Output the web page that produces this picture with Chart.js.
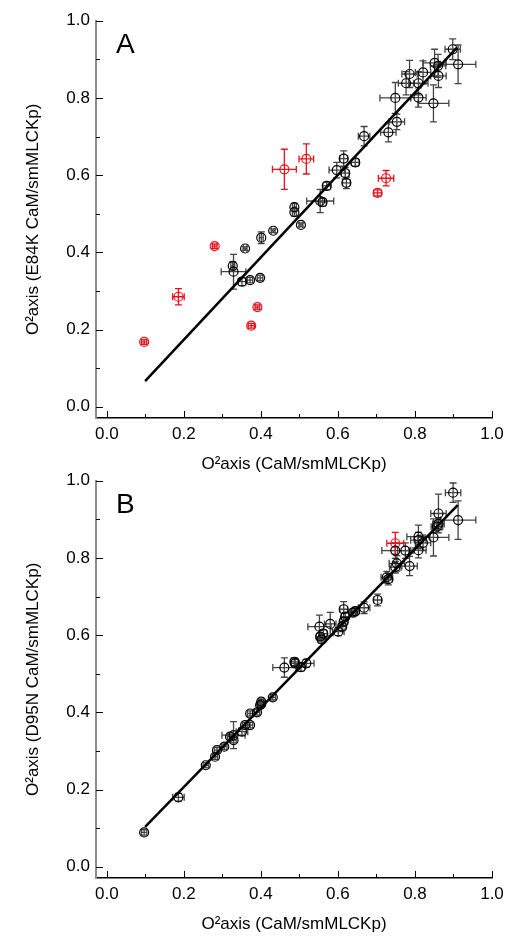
<!DOCTYPE html>
<html>
<head>
<meta charset="utf-8">
<script src="https://cdn.jsdelivr.net/npm/chart.js@4.4.1/dist/chart.umd.min.js"></script>
<style>
  body { margin: 0; background: #fff; }
  .panel { position: absolute; left: 0; }
</style>
</head>
<body>
<div class="panel" style="top:0"><canvas id="chartA" width="523" height="480"></canvas></div>
<div class="panel" style="top:460px"><canvas id="chartB" width="523" height="480"></canvas></div>
<script>
// tick values
const majorTicks = [0.0, 0.2, 0.4, 0.6, 0.8, 1.0];
const minorTicks = [0.1, 0.3, 0.5, 0.7, 0.9];

// panel A, E84K - black points
const aBlackX = [0.898, 0.912, 0.851, 0.860, 0.861, 0.848, 0.786, 0.821, 0.777, 0.809, 0.749, 0.809, 0.753, 0.731, 0.668, 0.615, 0.645, 0.597, 0.619, 0.622, 0.571, 0.554, 0.560, 0.487, 0.487, 0.504, 0.432, 0.401, 0.359, 0.327, 0.329, 0.351, 0.372, 0.398];
const aBlackY = [0.926, 0.887, 0.891, 0.883, 0.857, 0.786, 0.862, 0.866, 0.838, 0.838, 0.800, 0.801, 0.738, 0.711, 0.701, 0.643, 0.633, 0.613, 0.605, 0.580, 0.572, 0.533, 0.530, 0.517, 0.504, 0.471, 0.456, 0.438, 0.410, 0.365, 0.350, 0.324, 0.328, 0.334];
const aBlackXErr = [0.020, 0.046, 0.030, 0.020, 0.020, 0.040, 0.020, 0.020, 0.020, 0.025, 0.040, 0.020, 0.020, 0.020, 0.015, 0.010, 0.010, 0.020, 0.010, 0.010, 0.010, 0.035, 0.010, 0.005, 0.005, 0.005, 0.005, 0.005, 0.005, 0.005, 0.032, 0.010, 0.007, 0.007];
const aBlackYErr = [0.027, 0.050, 0.035, 0.030, 0.030, 0.048, 0.035, 0.030, 0.030, 0.030, 0.040, 0.025, 0.020, 0.025, 0.025, 0.020, 0.010, 0.020, 0.015, 0.015, 0.010, 0.030, 0.010, 0.010, 0.010, 0.005, 0.005, 0.015, 0.005, 0.010, 0.045, 0.010, 0.007, 0.007];

// panel A, E84K - red points
const aRedX = [0.461, 0.518, 0.725, 0.703, 0.280, 0.186, 0.097, 0.391, 0.375];
const aRedY = [0.615, 0.642, 0.592, 0.554, 0.416, 0.285, 0.168, 0.258, 0.210];
const aRedXErr = [0.031, 0.019, 0.020, 0.010, 0.006, 0.015, 0.007, 0.006, 0.008];
const aRedYErr = [0.052, 0.039, 0.020, 0.008, 0.006, 0.021, 0.006, 0.006, 0.006];

// panel A fit line
const aFitX = [0.0995, 0.909];
const aFitY = [0.0666, 0.930];

// panel B, D95N - black points
const bBlackX = [0.899, 0.912, 0.861, 0.857, 0.861, 0.848, 0.809, 0.809, 0.821, 0.809, 0.775, 0.749, 0.786, 0.753, 0.749, 0.727, 0.731, 0.703, 0.668, 0.645, 0.639, 0.615, 0.619, 0.615, 0.611, 0.601, 0.580, 0.552, 0.562, 0.558, 0.554, 0.461, 0.487, 0.489, 0.504, 0.518, 0.431, 0.401, 0.401, 0.398, 0.372, 0.390, 0.372, 0.359, 0.351, 0.329, 0.320, 0.329, 0.305, 0.286, 0.281, 0.257, 0.186, 0.097];
const bBlackY = [0.969, 0.898, 0.915, 0.881, 0.888, 0.853, 0.855, 0.846, 0.839, 0.820, 0.819, 0.819, 0.779, 0.786, 0.776, 0.750, 0.745, 0.691, 0.671, 0.662, 0.658, 0.667, 0.648, 0.635, 0.622, 0.609, 0.629, 0.622, 0.604, 0.589, 0.596, 0.516, 0.531, 0.527, 0.517, 0.527, 0.439, 0.428, 0.421, 0.419, 0.397, 0.400, 0.367, 0.367, 0.350, 0.341, 0.337, 0.328, 0.311, 0.302, 0.285, 0.263, 0.180, 0.089];
const bBlackXErr = [0.020, 0.046, 0.020, 0.015, 0.015, 0.040, 0.030, 0.020, 0.020, 0.020, 0.020, 0.035, 0.020, 0.020, 0.015, 0.015, 0.010, 0.010, 0.015, 0.010, 0.010, 0.010, 0.010, 0.010, 0.010, 0.015, 0.015, 0.030, 0.010, 0.010, 0.010, 0.030, 0.010, 0.010, 0.010, 0.020, 0.007, 0.007, 0.007, 0.007, 0.007, 0.007, 0.007, 0.007, 0.015, 0.030, 0.007, 0.007, 0.007, 0.007, 0.007, 0.007, 0.015, 0.007];
const bBlackYErr = [0.025, 0.050, 0.050, 0.015, 0.015, 0.048, 0.030, 0.020, 0.020, 0.020, 0.020, 0.020, 0.025, 0.020, 0.015, 0.015, 0.015, 0.015, 0.015, 0.010, 0.010, 0.020, 0.010, 0.010, 0.010, 0.010, 0.030, 0.030, 0.010, 0.010, 0.010, 0.025, 0.010, 0.010, 0.010, 0.010, 0.007, 0.007, 0.007, 0.007, 0.007, 0.007, 0.007, 0.007, 0.010, 0.035, 0.007, 0.007, 0.007, 0.007, 0.007, 0.007, 0.010, 0.007];

// panel B, D95N - red point
const bRedX = [0.749];
const bRedY = [0.838];
const bRedXErr = [0.022];
const bRedYErr = [0.028];

// panel B fit line
const bFitX = [0.0995, 0.911];
const bFitY = [0.1036, 0.937];

const FONT = '"Liberation Sans", Arial, Helvetica, sans-serif';
const RED = '#e8121c';

function pts(xs, ys) {
  return xs.map((x, i) => ({ x: x, y: ys[i] }));
}

// error bars, drawn through the scales
const errorBars = {
  id: 'errorBars',
  beforeDatasetsDraw(chart) {
    const ctx = chart.ctx;
    const xs = chart.scales.x, ys = chart.scales.y;
    const cap = 3.5;
    chart.data.datasets.forEach(ds => {
      if (!ds.xErr) return;
      ctx.save();
      ctx.strokeStyle = ds.errColor;
      ctx.lineWidth = 1.3;
      ds.data.forEach((p, i) => {
        const cx = xs.getPixelForValue(p.x), cy = ys.getPixelForValue(p.y);
        const x0 = xs.getPixelForValue(p.x - ds.xErr[i]), x1 = xs.getPixelForValue(p.x + ds.xErr[i]);
        const y0 = ys.getPixelForValue(p.y - ds.yErr[i]), y1 = ys.getPixelForValue(p.y + ds.yErr[i]);
        ctx.beginPath();
        ctx.moveTo(x0, cy); ctx.lineTo(x1, cy);
        ctx.moveTo(x0, cy - cap); ctx.lineTo(x0, cy + cap);
        ctx.moveTo(x1, cy - cap); ctx.lineTo(x1, cy + cap);
        ctx.moveTo(cx, y0); ctx.lineTo(cx, y1);
        ctx.moveTo(cx - cap, y0); ctx.lineTo(cx + cap, y0);
        ctx.moveTo(cx - cap, y1); ctx.lineTo(cx + cap, y1);
        ctx.stroke();
      });
      ctx.restore();
    });
  }
};

// inward tick marks and the panel letter
const frame = {
  id: 'frame',
  afterDraw(chart, args, opts) {
    const ctx = chart.ctx;
    const xs = chart.scales.x, ys = chart.scales.y;
    const area = chart.chartArea;
    ctx.save();
    ctx.strokeStyle = '#000';
    ctx.lineWidth = 1;
    ctx.beginPath();
    majorTicks.forEach(v => {
      const px = Math.round(xs.getPixelForValue(v)) + 0.5;
      ctx.moveTo(px, area.bottom); ctx.lineTo(px, area.bottom - 7);
      const py = Math.round(ys.getPixelForValue(v)) + 0.5;
      ctx.moveTo(area.left, py); ctx.lineTo(area.left + 7, py);
    });
    minorTicks.forEach(v => {
      const px = Math.round(xs.getPixelForValue(v)) + 0.5;
      ctx.moveTo(px, area.bottom); ctx.lineTo(px, area.bottom - 4);
      const py = Math.round(ys.getPixelForValue(v)) + 0.5;
      ctx.moveTo(area.left, py); ctx.lineTo(area.left + 4, py);
    });
    ctx.stroke();
    ctx.fillStyle = '#000';
    ctx.font = '28px ' + FONT;
    ctx.textBaseline = 'alphabetic';
    ctx.fillText(opts.letter, area.left + 20, area.top + 32);
    ctx.restore();
  }
};

function makeChart(id, letter, yTitle, black, red, fit) {
  return new Chart(document.getElementById(id), {
    type: 'scatter',
    data: {
      datasets: [
        {
          data: pts(black.x, black.y), xErr: black.xe, yErr: black.ye, errColor: '#444',
          pointStyle: 'circle', pointRadius: 4.5, borderWidth: 1.2,
          borderColor: '#000', backgroundColor: 'rgba(0,0,0,0)'
        },
        {
          data: pts(red.x, red.y), xErr: red.xe, yErr: red.ye, errColor: RED,
          pointStyle: 'circle', pointRadius: 4.5, borderWidth: 1.2,
          borderColor: RED, backgroundColor: 'rgba(0,0,0,0)'
        },
        {
          type: 'line', data: pts(fit.x, fit.y), showLine: true,
          borderColor: '#000', borderWidth: 2.5, pointRadius: 0, fill: false
        }
      ]
    },
    options: {
      responsive: false,
      animation: false,
      events: [],
      layout: { padding: { top: 20.7, right: 31, left: 0, bottom: 0 } },
      plugins: { legend: { display: false }, tooltip: { enabled: false }, frame: { letter: letter } },
      scales: {
        x: {
          type: 'linear', min: -0.028, max: 1.0,
          afterFit(s) { s.height = 62; },
          afterBuildTicks(s) { s.ticks = majorTicks.map(v => ({ value: v })); },
          grid: { display: false, drawTicks: false },
          border: { color: '#000', width: 1.5 },
          ticks: { padding: 6, color: '#000', font: { size: 17, family: FONT }, maxRotation: 0, autoSkip: false, callback: v => v.toFixed(1) },
          title: { display: true, text: 'O²axis (CaM/smMLCKp)', color: '#000', font: { size: 17, family: FONT }, padding: { top: 0, bottom: 5 } }
        },
        y: {
          type: 'linear', min: -0.029, max: 1.0,
          afterFit(s) { s.width = 96; },
          afterBuildTicks(s) { s.ticks = majorTicks.map(v => ({ value: v })); },
          grid: { display: false, drawTicks: false },
          border: { color: '#8c8c8c', width: 2 },
          ticks: { padding: 6, color: '#000', font: { size: 17, family: FONT }, autoSkip: false, callback: v => v.toFixed(1) },
          title: { display: true, text: yTitle, color: '#000', font: { size: 17, family: FONT }, padding: { top: 23, bottom: 0 } }
        }
      }
    },
    plugins: [errorBars, frame]
  });
}

makeChart('chartA', 'A', 'O²axis (E84K CaM/smMLCKp)',
  { x: aBlackX, y: aBlackY, xe: aBlackXErr, ye: aBlackYErr },
  { x: aRedX, y: aRedY, xe: aRedXErr, ye: aRedYErr },
  { x: aFitX, y: aFitY });

makeChart('chartB', 'B', 'O²axis (D95N CaM/smMLCKp)',
  { x: bBlackX, y: bBlackY, xe: bBlackXErr, ye: bBlackYErr },
  { x: bRedX, y: bRedY, xe: bRedXErr, ye: bRedYErr },
  { x: bFitX, y: bFitY });
</script>
</body>
</html>
